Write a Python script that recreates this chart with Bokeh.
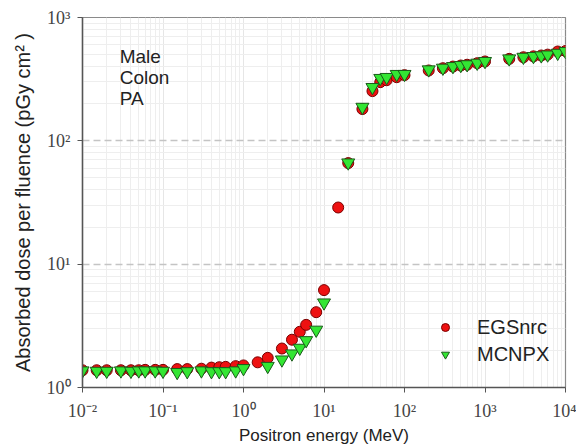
from bokeh.plotting import figure
from bokeh.models import Label, Legend, LegendItem, FixedTicker
from bokeh.embed import file_html
from bokeh.resources import INLINE

# Positron energies (MeV)
energy_egs = [0.01, 0.015, 0.02, 0.03, 0.04, 0.05, 0.06, 0.08, 0.1, 0.15, 0.2,
              0.3, 0.4, 0.5, 0.6, 0.8, 1.0, 1.5, 2, 3, 4, 5, 6, 8, 10, 15, 20,
              30, 40, 50, 60, 80, 100, 200, 300, 400, 500, 600, 800, 1000,
              2000, 3000, 4000, 5000, 6000, 8000, 10000]
dose_egs = [1.38, 1.38, 1.38, 1.38, 1.38, 1.38, 1.39, 1.39, 1.39, 1.41, 1.41,
            1.42, 1.45, 1.46, 1.47, 1.49, 1.51, 1.60, 1.74, 2.07, 2.44, 2.83,
            3.22, 4.08, 6.16, 28.8, 66.0,
            181, 253, 299, 310, 328, 341, 372, 388, 400, 408, 414, 426, 440,
            462, 476, 484, 492, 500, 530, 535]

energy_mcnp = [0.01, 0.015, 0.02, 0.03, 0.04, 0.05, 0.06, 0.08, 0.1, 0.15, 0.2,
               0.3, 0.4, 0.5, 0.6, 0.8, 1.0, 2, 3, 4, 5, 6, 8, 10, 20,
               30, 40, 50, 60, 80, 100, 200, 300, 400, 500, 600, 800, 1000,
               2000, 3000, 4000, 5000, 6000, 8000, 10000]
dose_mcnp = [1.37, 1.36, 1.36, 1.37, 1.36, 1.37, 1.37, 1.37, 1.36, 1.33, 1.35,
             1.37, 1.35, 1.35, 1.35, 1.37, 1.43, 1.49, 1.68, 1.88, 2.09, 2.41,
             2.93, 4.87, 66.5,
             188, 272, 322, 328, 347, 347, 378, 390, 402, 410, 416, 428, 442,
             464, 478, 485, 491, 499, 515, 532]

x_ticks = [0.01, 0.1, 1, 10, 100, 1000, 10000]
x_tick_labels = ["10⁻²", "10⁻¹", "10⁰", "10¹", "10²", "10³", "10⁴"]
y_ticks = [1, 10, 100, 1000]
y_tick_labels = ["10⁰", "10¹", "10²", "10³"]

p = figure(width=576, height=447, x_axis_type="log", y_axis_type="log",
           x_range=(0.01, 10000), y_range=(1, 1000),
           output_backend="svg", toolbar_location=None,
           min_border_left=82, min_border_right=11,
           min_border_top=17, min_border_bottom=59)
p.background_fill_color = "white"
p.border_fill_color = "white"
p.outline_line_color = "#8a8a8a"
p.outline_line_width = 1.2

# axes
for ax in (p.xaxis[0], p.yaxis[0]):
    ax.axis_line_color = "#555555"
    ax.axis_line_width = 1.5
    ax.major_tick_line_color = "#555555"
    ax.major_tick_out = 5
    ax.major_tick_in = 0
    ax.minor_tick_line_color = None
    ax.major_label_text_font = "Liberation Serif"
    ax.major_label_text_font_size = "18px"
    ax.major_label_text_color = "#444444"
    ax.axis_label_text_font = "Liberation Sans"
    ax.axis_label_text_font_style = "normal"
    ax.axis_label_text_color = "#222222"

p.xaxis.axis_label_text_font_size = "17px"
p.yaxis.axis_label_text_font_size = "20px"
p.xaxis.ticker = FixedTicker(ticks=x_ticks, minor_ticks=[])
p.yaxis.ticker = FixedTicker(ticks=y_ticks, minor_ticks=[])
p.xaxis.major_label_overrides = dict(zip(x_ticks, x_tick_labels))
p.yaxis.major_label_overrides = dict(zip(y_ticks, y_tick_labels))
p.xaxis.axis_label = "Positron energy (MeV)"
p.yaxis.axis_label = "Absorbed dose per fluence (pGy cm² )"
p.xaxis.major_label_standoff = 8
p.xaxis.axis_label_standoff = 2
p.yaxis.major_label_standoff = 7
p.yaxis.axis_label_standoff = 10

# grids
minor_x = [m * 10 ** e for e in range(-2, 4) for m in range(2, 10)]
minor_y = [m * 10 ** e for e in range(0, 3) for m in range(2, 10)]
p.xgrid.ticker = FixedTicker(ticks=x_ticks, minor_ticks=minor_x)
p.ygrid.ticker = FixedTicker(ticks=y_ticks, minor_ticks=minor_y)
p.xgrid.grid_line_color = "#e6e6e6"
p.xgrid.minor_grid_line_color = "#eeeeee"
p.ygrid.grid_line_color = "#c4c4c4"
p.ygrid.grid_line_dash = "7 4"
p.ygrid.grid_line_width = 1.3
p.ygrid.minor_grid_line_color = "#eeeeee"

r1 = p.scatter(energy_egs, dose_egs, marker="circle", size=11,
               fill_color="#ee1111", line_color="#7a0000", line_width=1)
r2 = p.scatter(energy_mcnp, dose_mcnp, marker="inverted_triangle", size=13,
               fill_color="#33e633", line_color="#1a5a1a", line_width=1)

legend = Legend(items=[LegendItem(label="EGSnrc", renderers=[r1]),
                       LegendItem(label="MCNPX", renderers=[r2])],
                location=(353, 21), border_line_color=None,
                background_fill_alpha=0, glyph_width=20, glyph_height=24,
                spacing=3, label_standoff=22, padding=10,
                label_text_font="Liberation Sans", label_text_font_size="20px",
                label_text_color="#222222")
p.add_layout(legend)

for txt, yv in [("Male", 484), ("Colon", 327), ("PA", 220)]:
    p.add_layout(Label(x=0.029, y=yv, text=txt, text_font="Liberation Sans",
                       text_font_size="19px", text_color="#222222",
                       text_baseline="middle"))

open("out.html", "w").write(file_html(p, INLINE))
